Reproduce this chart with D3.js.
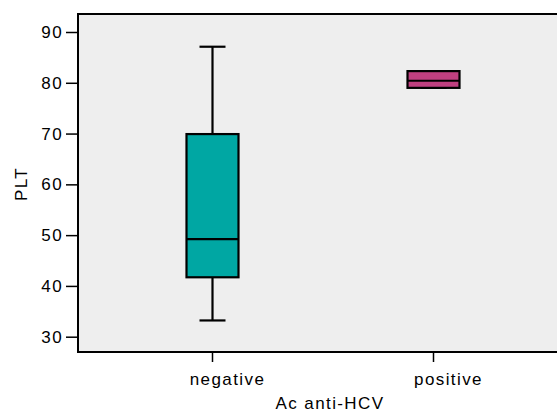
<!DOCTYPE html>
<html><head><meta charset="utf-8">
<script src="https://cdn.jsdelivr.net/npm/d3@7"></script>
<style>body{margin:0;background:#fff}svg{display:block}text{font-family:"Liberation Sans",Arial,sans-serif;fill:#000}</style>
</head><body>
<script>
const categories = ["negative", "positive"];
const whiskerLow = [33.2, 79.0];
const q1 = [41.7, 79.0];
const median = [49.2, 80.4];
const q3 = [69.9, 82.3];
const whiskerHigh = [87.1, 82.3];
const yTicks = [30, 40, 50, 60, 70, 80, 90];
const boxColors = ["#00a7a3", "#bf4080"];
const xTitle = "Ac anti-HCV";
const yTitle = "PLT";

const W = 557, H = 413;
const svg = d3.select("body").append("svg").attr("width", W).attr("height", H);
const plot = {left: 78, top: 14, right: 562, bottom: 352};

const y = d3.scaleLinear().domain([30, 90]).range([336.7, 32]);
const x = d3.scaleBand().domain(categories).range([102, 544]);

svg.append("rect").attr("x", plot.left).attr("y", plot.top)
  .attr("width", plot.right - plot.left).attr("height", plot.bottom - plot.top)
  .attr("fill", "#eeeeee").attr("stroke", "#000").attr("stroke-width", 2);

const fontAttrs = sel => sel.attr("font-size", 17).style("letter-spacing", "1.4px").attr("fill", "#000")
  .attr("font-family", '"Liberation Sans",Arial,sans-serif');

// y axis
const yAxis = svg.append("g").attr("transform", `translate(${plot.left - 1},0)`)
  .call(d3.axisLeft(y).tickValues(yTicks).tickSize(11).tickPadding(3));
yAxis.select(".domain").remove();
yAxis.selectAll("line").attr("stroke", "#000").attr("stroke-width", 1.5);
yAxis.selectAll("text").call(fontAttrs);

// x axis
const xAxis = svg.append("g").attr("transform", `translate(0,${plot.bottom + 1})`)
  .call(d3.axisBottom(x).tickSize(9).tickPadding(6));
xAxis.select(".domain").remove();
xAxis.selectAll("line").attr("stroke", "#000").attr("stroke-width", 1.5);
xAxis.selectAll("text").call(fontAttrs).attr("dx", 15).attr("dy", "1.0em");

// titles
svg.append("text").attr("x", 330).attr("y", 409).attr("text-anchor", "middle").call(fontAttrs).text(xTitle);
svg.append("text").attr("transform", "translate(27,184) rotate(-90)").attr("text-anchor", "middle").call(fontAttrs).text(yTitle);

// boxes
const data = categories.map((c, i) => ({c, lo: whiskerLow[i], q1: q1[i], med: median[i], q3: q3[i], hi: whiskerHigh[i], color: boxColors[i]}));
const boxW = 52, capW = 26;
const g = svg.append("g").selectAll("g").data(data).join("g")
  .attr("transform", d => `translate(${x(d.c) + x.bandwidth() / 2},0)`);
g.append("line").attr("x1", 0).attr("x2", 0).attr("y1", d => y(d.hi)).attr("y2", d => y(d.lo))
  .attr("stroke", "#000").attr("stroke-width", 2.2);
g.append("line").attr("x1", -capW / 2).attr("x2", capW / 2).attr("y1", d => y(d.hi)).attr("y2", d => y(d.hi))
  .attr("stroke", "#000").attr("stroke-width", 2.2);
g.append("line").attr("x1", -capW / 2).attr("x2", capW / 2).attr("y1", d => y(d.lo)).attr("y2", d => y(d.lo))
  .attr("stroke", "#000").attr("stroke-width", 2.2);
g.append("rect").attr("x", -boxW / 2).attr("width", boxW)
  .attr("y", d => y(d.q3)).attr("height", d => y(d.q1) - y(d.q3))
  .attr("fill", d => d.color).attr("stroke", "#000").attr("stroke-width", 2.2);
g.append("line").attr("x1", -boxW / 2).attr("x2", boxW / 2).attr("y1", d => y(d.med)).attr("y2", d => y(d.med))
  .attr("stroke", "#000").attr("stroke-width", 2.2);
</script>
</body></html>
